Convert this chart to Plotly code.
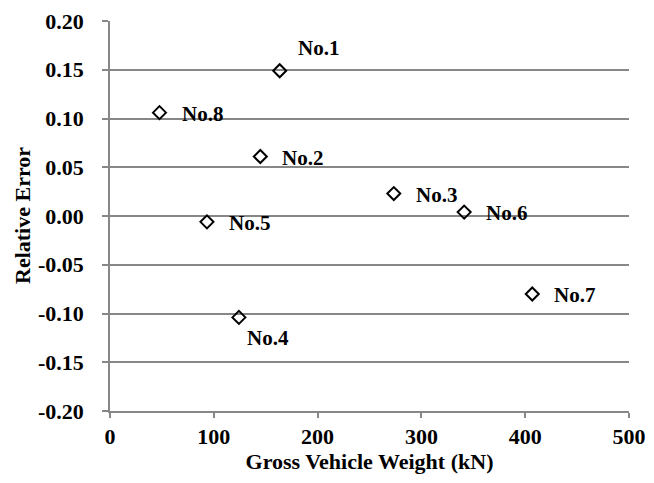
import plotly.graph_objects as go

names = ["No.1", "No.2", "No.3", "No.4", "No.5", "No.6", "No.7", "No.8"]
weight_kn = [163.5, 144.8, 273.4, 124.2, 93.4, 341.2, 406.8, 47.7]
rel_error = [0.149, 0.061, 0.023, -0.104, -0.006, 0.004, -0.080, 0.106]

y_tick_vals = [-0.20, -0.15, -0.10, -0.05, 0.00, 0.05, 0.10, 0.15, 0.20]
y_tick_text = ["-0.20", "-0.15", "-0.10", "-0.05", "0.00", "0.05", "0.10", "0.15", "0.20"]
x_tick_vals = [0, 100, 200, 300, 400, 500]
x_tick_text = ["0", "100", "200", "300", "400", "500"]

FONT = "Liberation Serif"
GRID = "#878787"
FS = 22

fig = go.Figure()
fig.add_trace(go.Scatter(
    x=weight_kn, y=rel_error, mode="markers",
    marker=dict(symbol="diamond-open", size=10, color="black",
                line=dict(color="black", width=2)),
    showlegend=False, hoverinfo="skip",
))

for n, x, y in zip(names, weight_kn, rel_error):
    if n == "No.1":
        xs, ys = 16, 23
    elif n == "No.4":
        xs, ys = 6, -21
    else:
        xs, ys = 20, -1
    fig.add_annotation(x=x, y=y, text=n, showarrow=False, xanchor="left", yanchor="middle",
                       xshift=xs, yshift=ys,
                       font=dict(family=FONT, size=21, color="black", weight="bold"))

# y-axis title placed as a rotated annotation
fig.add_annotation(x=0, y=0.5, xref="paper", yref="paper", text="Relative Error",
                   textangle=-90, showarrow=False, xanchor="center", yanchor="middle",
                   xshift=-88, font=dict(family=FONT, size=FS, color="black", weight="bold"))

fig.update_layout(
    width=654, height=483,
    margin=dict(l=110, r=25, t=21, b=72),
    paper_bgcolor="white", plot_bgcolor="white",
    font=dict(family=FONT, size=FS, color="black", weight="bold"),
    xaxis=dict(range=[0, 500], tickvals=x_tick_vals, ticktext=x_tick_text, automargin=False,
               showgrid=False, zeroline=False, showline=True, linecolor=GRID, linewidth=1.5,
               ticks="outside", ticklen=5, tickcolor=GRID, tickwidth=1.5,
               tickfont=dict(family=FONT, size=FS, color="black", weight="bold"),
               title=dict(text="Gross Vehicle Weight (kN)", standoff=4,
                          font=dict(family=FONT, size=FS, color="black", weight="bold"))),
    yaxis=dict(range=[-0.20, 0.20], tickvals=y_tick_vals, ticktext=y_tick_text, automargin=False,
               showgrid=True, gridcolor=GRID, gridwidth=1.5, zeroline=False,
               showline=True, linecolor=GRID, linewidth=1.5,
               ticks="outside", ticklen=6, tickcolor=GRID, tickwidth=1.5,
               ticklabelstandoff=14,
               tickfont=dict(family=FONT, size=FS, color="black", weight="bold")),
)

fig.write_html("out.html")
